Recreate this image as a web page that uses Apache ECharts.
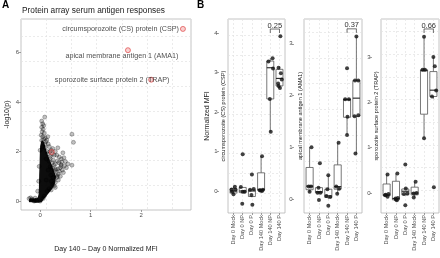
<!DOCTYPE html>
<html>
<head>
<meta charset="utf-8">
<script src="https://cdn.jsdelivr.net/npm/echarts@6.0.0/dist/echarts.min.js"></script>
<style>
  html, body { margin: 0; padding: 0; background: #fff; }
  #chart { width: 440px; height: 258px; }
</style>
</head>
<body>
<div id="chart"></div>
<script>
// ---- panel A: volcano-ish scatter ----
const cloudX = [0.09, 0.03, 0.05, 0.07, 0.03, 0.06, 0.04, 0.08, 0.02, 0.05, 0.1, 0.07, 0.13, 0.03, 0.15, 0.11, 0.16, 0.05, 0.1, 0.18,
  0.22, 0.25, 0.14, 0.0, 0.3, 0.35, 0.28, 0.24, 0.33, 0.2, 0.38, 0.42, 0.45, 0.26, 0.12, 0.18, 0.37, 0.41, 0.3, 0.5,
  0.55, 0.48, 0.52, 0.4, 0.35, 0.24, 0.2, 0.44, 0.28, 0.16, 0.46, 0.36, 0.32, 0.4, 0.33, 0.26, 0.12, 0.22, 0.3, 0.25,
  0.3, 0.18, 0.22, 0.14, 0.08, 0.06, 0.63, 0.66, 0.63, -0.02, -0.03, -0.05, -0.1, -0.16, -0.22, -0.19, 0.0, -0.12, -0.08, 0.34,
  0.27, 0.43, 0.21, 0.36, 0.19, 0.31, 0.3, 0.34, 0.28, 0.2, 0.15, 0.1, 0.24, 0.38, 0.42, 0.47];
const cloudY = [3.39, 3.23, 3.12, 3.05, 2.98, 2.9, 2.8, 2.74, 2.66, 2.6, 2.55, 2.5, 2.46, 2.45, 2.6, 2.4, 2.3, 2.2, 2.15, 2.2,
  2.05, 2.12, 2.0, 2.05, 2.0, 2.15, 1.85, 1.9, 1.85, 1.8, 1.78, 1.7, 1.95, 1.65, 1.7, 1.6, 1.55, 1.48, 1.5, 1.6,
  1.5, 1.42, 1.35, 1.35, 1.3, 1.35, 1.4, 1.25, 1.2, 1.25, 1.15, 1.1, 1.05, 1.0, 0.95, 0.95, 0.85, 0.8, 0.75, 0.65,
  0.55, 0.5, 0.45, 0.4, 0.2, 0.1, 2.7, 2.37, 1.45, 1.4, 0.8, 0.4, 0.12, 0.08, 0.1, 0.13, 0.0, 0.0, 0.03, 1.62,
  1.45, 1.58, 1.05, 0.85, 2.0, 1.3, 1.25, 1.0, 0.62, 1.72, 1.9, 2.3, 1.55, 1.2, 1.42, 1.75];
// outline of the saturated (all black) part of the cloud
const coreX = [-0.22, -0.21, -0.06, -0.03, -0.02, -0.01, 0.0, 0.03, 0.08, 0.12, 0.19, 0.26, 0.31, 0.3, 0.24, 0.16, 0.09, 0.03, -0.05];
const coreY = [-0.04, 0.1, 0.12, 0.3, 1.0, 1.6, 2.2, 2.45, 2.35, 2.05, 1.65, 1.3, 1.0, 0.75, 0.5, 0.3, 0.12, -0.04, -0.07];
const hitNames = ['circumsporozoite (CS) protein (CSP)', 'apical membrane antigen 1 (AMA1)', 'sporozoite surface protein 2 (TRAP)', ''];
const hitX = [2.83, 1.74, 2.2, 0.23];
const hitY = [6.95, 6.09, 4.9, 1.98];

// ---- panel B: boxplots ----
const groups = ['Day 0 Mock', 'Day 0 NP', 'Day 0 P', 'Day 140 Mock', 'Day 140 NP', 'Day 140 P'];
const antigens = ['circumsporozoite (CS) protein (CSP)', 'apical membrane antigen 1 (AMA1)', 'sporozoite surface protein 2 (TRAP)'];
const pValues = ['0.25', '0.37', '0.66'];
const bracketY = [4.1, 3.29, 3.62];

// [lower whisker, q1, median, q3, upper whisker]
const cspBox = [[-0.08, -0.05, 0.0, 0.06, 0.11], [-0.04, -0.04, 0.0, 0.09, 0.09], [-0.16, -0.14, 0.0, 0.03, 0.05],
  [0.0, 0.02, 0.04, 0.46, 0.88], [1.5, 2.33, 3.12, 3.29, 3.36], [2.61, 2.66, 2.85, 3.08, 3.15]];
const cspX = [1.15, 0.85, 1.0, 0.8, 1.2, 2.0, 1.95, 1.8, 2.2, 2.0, 3.0, 3.05, 2.8, 3.2, 2.95, 4.1, 3.85, 4.1, 4.2, 3.95,
  4.8, 5.25, 5.3, 4.95, 5.05, 6.1, 5.9, 6.15, 6.25, 5.85, 5.9, 6.05];
const cspY = [0.11, -0.02, -0.08, 0.04, 0.03, 0.93, -0.32, 0.1, -0.02, -0.02, 0.42, -0.35, 0.03, 0.05, -0.1, 0.88, 0.02, 0.0, 0.03, 0.01,
  3.28, 3.36, 3.1, 2.33, 1.5, 3.92, 3.12, 2.98, 2.82, 2.72, 2.66, 2.61];

const amaBox = [[0.14, 0.18, 0.25, 0.61, 1.0], [0.12, 0.12, 0.14, 0.22, 0.23], [0.0, 0.03, 0.06, 0.19, 0.46],
  [0.1, 0.19, 0.24, 0.66, 1.09], [1.24, 1.58, 1.92, 1.93, 1.93], [0.88, 1.6, 1.95, 2.29, 3.14]];
const amaX = [1.2, 0.9, 1.15, 1.0, 2.1, 2.0, 1.85, 2.15, 1.95, 3.0, 3.0, 2.8, 3.2, 2.9, 4.1, 3.85, 4.15, 3.95,
  4.8, 5.2, 5.0, 5.05, 5.0, 6.0, 5.85, 6.2, 5.8, 6.2, 5.9];
const amaY = [1.0, 0.24, 0.24, 0.14, 0.69, -0.02, 0.12, 0.12, 0.22, 0.46, -0.13, 0.06, 0.04, 0.19, 1.09, 0.24, 0.2, 0.1,
  1.93, 1.93, 2.53, 1.59, 1.24, 3.14, 2.29, 2.29, 1.6, 1.62, 0.88];

const trapBox = [[-0.08, -0.06, -0.04, 0.2, 0.41], [-0.16, -0.15, -0.12, 0.26, 0.43], [-0.04, -0.04, 0.04, 0.09, 0.1],
  [-0.1, -0.04, 0.0, 0.13, 0.25], [1.21, 1.74, 2.7, 2.72, 3.45], [2.08, 2.13, 2.27, 2.68, 3.0]];
const trapX = [1.1, 0.9, 1.1, 1.2, 0.85, 2.15, 1.95, 2.1, 2.0, 2.2, 3.0, 3.0, 2.85, 3.2, 3.05, 4.1, 3.9, 3.9, 4.2,
  5.0, 4.85, 5.1, 5.0, 6.0, 6.15, 6.3, 5.85, 6.05];
const trapY = [0.41, -0.04, -0.08, -0.02, -0.05, 0.43, -0.12, -0.16, -0.14, -0.11, 0.63, -0.27, -0.02, -0.01, 0.1, 0.25, -0.1, -0.01, 0.0,
  3.45, 2.72, 2.72, 1.21, 3.0, 2.8, 2.26, 2.13, 0.13];

const FONT = 'Liberation Sans, Arial, sans-serif';
const GREY = '#4d4d4d';
const gridLine = { show: true, lineStyle: { color: '#e3e3e3', width: 0.7, type: [2, 2] } };

const panels = [
  { left: 228, width: 57, min: -0.557, max: 4.354, off: 9, ticks: [0, 1, 2, 3, 4], box: cspBox, xs: cspX, ys: cspY, nameGap: 2 },
  { left: 304, width: 58, min: -0.27, max: 3.48, off: 10, ticks: [0, 1, 2, 3], box: amaBox, xs: amaX, ys: amaY, nameGap: 1 },
  { left: 381, width: 58, min: -0.44, max: 3.84, off: 9, ticks: [0, 1, 2, 3], box: trapBox, xs: trapX, ys: trapY, nameGap: 2 },
];

const zip = (a, b) => a.map((v, i) => [v, b[i]]);

function boxRender(box) {
  return function (params, api) {
    const i = params.dataIndex;
    const b = box[i];
    const x = i + 1;
    const lo = api.coord([x, b[0]]);
    const q1 = api.coord([x, b[1]]);
    const md = api.coord([x, b[2]]);
    const q3 = api.coord([x, b[3]]);
    const hi = api.coord([x, b[4]]);
    const l = api.coord([x - 0.38, b[2]])[0];
    const r = api.coord([x + 0.38, b[2]])[0];
    const s = { stroke: '#555', lineWidth: 0.8 };
    return {
      type: 'group',
      children: [
        { type: 'line', shape: { x1: lo[0], y1: lo[1], x2: q1[0], y2: q1[1] }, style: s },
        { type: 'line', shape: { x1: q3[0], y1: q3[1], x2: hi[0], y2: hi[1] }, style: s },
        { type: 'rect', shape: { x: l, y: q3[1], width: r - l, height: q1[1] - q3[1] }, style: { fill: '#fff', stroke: '#555', lineWidth: 0.8 } },
        { type: 'line', shape: { x1: l, y1: md[1], x2: r, y2: md[1] }, style: { stroke: '#222', lineWidth: 1.1 } },
      ],
    };
  };
}

function bracketRender(k) {
  return function (params, api) {
    const a = api.coord([5, bracketY[k]]);
    const b = api.coord([6, bracketY[k]]);
    return {
      type: 'group',
      children: [
        { type: 'polyline', shape: { points: [[a[0], a[1] + 4], a, b, [b[0], b[1] + 4]] }, style: { stroke: '#333', lineWidth: 0.7, fill: null } },
        { type: 'text', style: { text: pValues[k], x: (a[0] + b[0]) / 2, y: a[1] + 0.5, align: 'center', verticalAlign: 'bottom', fontSize: 7.5, fontFamily: FONT, fill: '#333' } },
      ],
    };
  };
}

const grid = [{ left: 21, top: 19, width: 170, height: 195 }].concat(panels.map(p => ({ left: p.left, top: 19, width: p.width, height: 194 })));
grid.forEach(g => { g.show = true; g.borderColor = '#b5b5b5'; g.borderWidth = 0.8; g.backgroundColor = '#fff'; });

const xAxis = [
  { gridIndex: 0, type: 'value', min: -0.38, max: 2.99, interval: 0.5, position: 'bottom',
    axisLine: { show: false, onZero: false }, axisTick: { show: false }, axisLabel: { show: false }, splitLine: gridLine },
  { gridIndex: 0, type: 'value', min: -0.38, max: 2.99, position: 'bottom',
    axisLine: { show: false, onZero: false }, splitLine: { show: false },
    axisTick: { show: true, length: 2, customValues: [0, 1, 2], lineStyle: { color: '#777', width: 0.7 } },
    axisLabel: { customValues: [0, 1, 2], fontSize: 6, color: GREY, margin: 2 },
    name: 'Day 140 \u2013 Day 0 Normalized MFI', nameLocation: 'middle', nameGap: 36,
    nameTextStyle: { fontSize: 7, color: '#1a1a1a', fontFamily: FONT } },
].concat(panels.map((p, k) => ({
  gridIndex: k + 1, type: 'value', min: 0.4, max: 6.6, interval: 1, position: 'bottom',
  axisLine: { show: false, onZero: false }, splitLine: gridLine,
  axisTick: { show: true, length: 2, customValues: [1, 2, 3, 4, 5, 6], lineStyle: { color: '#777', width: 0.7 } },
  axisLabel: { customValues: [1, 2, 3, 4, 5, 6], rotate: 90, fontSize: 5.6, color: GREY, margin: 2,
    formatter: v => groups[Math.round(v) - 1] || '' },
})));

const yAxis = [
  { gridIndex: 0, type: 'value', min: -0.36, max: 7.35, interval: 1, position: 'left',
    axisLine: { show: false, onZero: false }, axisTick: { show: false }, axisLabel: { show: false }, splitLine: gridLine },
  { gridIndex: 0, type: 'value', min: -0.36, max: 7.35, position: 'left',
    axisLine: { show: false, onZero: false }, splitLine: { show: false },
    axisTick: { show: true, length: 2, customValues: [0, 2, 4, 6], lineStyle: { color: '#777', width: 0.7 } },
    axisLabel: { customValues: [0, 2, 4, 6], fontSize: 6, color: GREY, margin: 2 },
    name: '-log10(p)', nameLocation: 'middle', nameGap: 10, nameTextStyle: { fontSize: 7, color: '#1a1a1a', fontFamily: FONT } },
];
panels.forEach((p, k) => {
  yAxis.push({ gridIndex: k + 1, type: 'value', min: p.min, max: p.max, interval: 0.5, position: 'left',
    axisLine: { show: false, onZero: false }, axisTick: { show: false }, axisLabel: { show: false }, splitLine: gridLine,
    name: antigens[k], nameLocation: 'middle', nameGap: p.nameGap, nameTextStyle: { fontSize: 5.6, color: '#1a1a1a', fontFamily: FONT } });
  yAxis.push({ gridIndex: k + 1, type: 'value', min: p.min, max: p.max, position: 'left', offset: p.off,
    axisLine: { show: false, onZero: false }, splitLine: { show: false },
    axisTick: { show: true, length: 2, customValues: p.ticks, lineStyle: { color: '#777', width: 0.7 } },
    axisLabel: { customValues: p.ticks, fontSize: 6, color: GREY, margin: 1.5 },
    name: k === 0 ? 'Normalized MFI' : '', nameLocation: 'middle', nameGap: 7.5,
    nameTextStyle: { fontSize: 7, color: '#1a1a1a', fontFamily: FONT } });
});

const series = [
  { type: 'custom', xAxisIndex: 0, yAxisIndex: 0, data: [[0, 0]], z: 2, silent: true,
    renderItem: function (params, api) {
      const pts = coreX.map((x, i) => api.coord([x, coreY[i]]));
      return { type: 'polygon', shape: { points: pts, smooth: 0.2 }, style: { fill: 'rgba(0,0,0,0.95)' } };
    } },
  { type: 'scatter', xAxisIndex: 0, yAxisIndex: 0, data: zip(cloudX, cloudY), symbolSize: 4, z: 3,
    itemStyle: { color: 'rgba(0,0,0,0.3)', borderColor: 'rgba(0,0,0,0.55)', borderWidth: 0.6 } },
  { type: 'scatter', xAxisIndex: 0, yAxisIndex: 0, symbolSize: 5, z: 4,
    itemStyle: { color: 'rgba(235,90,90,0.35)', borderColor: '#e04848', borderWidth: 0.9 },
    label: { show: true, fontSize: 7.2, color: '#1a1a1a', fontFamily: FONT, formatter: p => hitNames[p.dataIndex] },
    data: hitX.map((x, i) => {
      const item = { value: [x, hitY[i]] };
      if (i === 0) item.label = { position: 'left', distance: 1 };
      if (i === 1) item.label = { position: 'inside', offset: [-6, 6] };
      if (i === 2) item.label = { position: 'inside', offset: [-39, 0] };
      return item;
    }) },
];
panels.forEach((p, k) => {
  series.push({ type: 'custom', xAxisIndex: k + 2, yAxisIndex: 2 + 2 * k, z: 2, silent: true,
    data: groups.map((g, i) => [i + 1, p.box[i][2]]), renderItem: boxRender(p.box) });
  series.push({ type: 'scatter', xAxisIndex: k + 2, yAxisIndex: 2 + 2 * k, z: 3, symbolSize: 4,
    itemStyle: { color: '#111' }, data: zip(p.xs, p.ys) });
  series.push({ type: 'custom', xAxisIndex: k + 2, yAxisIndex: 2 + 2 * k, z: 4, silent: true, clip: false,
    data: [[5.5, bracketY[k]]], renderItem: bracketRender(k) });
});

const chart = echarts.init(document.getElementById('chart'));
const option = {
  animation: false,
  backgroundColor: '#fff',
  textStyle: { fontFamily: FONT },
  title: [
    { text: 'A', left: 2, top: 0, padding: 0, textStyle: { fontSize: 10, fontWeight: 'bold', color: '#000', fontFamily: FONT } },
    { text: 'B', left: 197, top: 0, padding: 0, textStyle: { fontSize: 10, fontWeight: 'bold', color: '#000', fontFamily: FONT } },
    { text: 'Protein array serum antigen responses', left: 22, top: 7, padding: 0,
      textStyle: { fontSize: 8.3, fontWeight: 'normal', color: '#1a1a1a', fontFamily: FONT } },
  ],
  grid: grid,
  xAxis: xAxis,
  yAxis: yAxis,
  series: series,
};
chart.setOption(option);
</script>
</body>
</html>
